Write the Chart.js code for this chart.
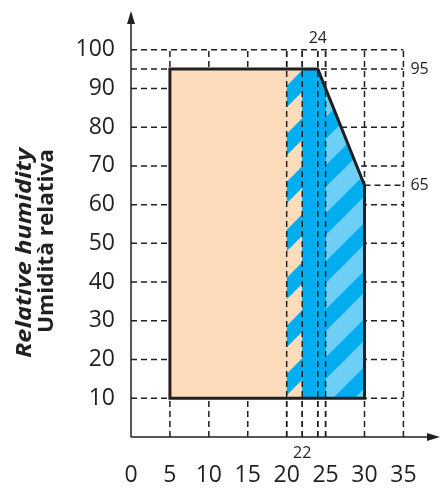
<!DOCTYPE html>
<html>
<head>
<meta charset="utf-8">
<script src="https://cdn.jsdelivr.net/npm/chart.js@4.4.1/dist/chart.umd.min.js"></script>
<style>
  html, body { margin: 0; padding: 0; background: #fff; }
</style>
</head>
<body>
<canvas id="rh" width="440" height="488"></canvas>
<script>
// axis ticks
const xTicks = [0, 5, 10, 15, 20, 25, 30, 35];
const yTicks = [10, 20, 30, 40, 50, 60, 70, 80, 90, 100];

// dashed reference lines
const gridX = [5, 10, 15, 20, 22, 24, 25, 30, 35];
const gridY = [10, 20, 30, 40, 50, 60, 70, 80, 90, 95, 100];
const overX = [20, 22, 24, 25];   // these stay visible over the coloured zone

// envelope (temperature, humidity)
const envX = [5, 5, 24, 30, 30, 5];
const envY = [10, 95, 95, 65, 10, 10];

// top edges of the filled zones (filled down to 10 %)
const peachX = [5, 24, 30];
const peachY = [95, 95, 65];
const blueX = [20, 24, 30];
const blueY = [95, 95, 65];
const hatchAX = [20, 22];
const hatchAY = [95, 95];
const hatchBX = [25, 30];
const hatchBY = [90, 65];

// marked values
const topMark = 24, bottomMark = 22;
const rightMarks = [95, 65];

const ink = '#231f20';
const peach = '#fddcbc';
const blue = '#00aeef';
const light = '#6dcff6';
const FONT = "'Open Sans', 'Noto Sans', sans-serif";

const pts = (xs, ys) => xs.map((x, i) => ({ x: x, y: ys[i] }));

function stripes(color, share, phase) {
  const P = 48;
  const c = document.createElement('canvas');
  c.width = P; c.height = P;
  const g = c.getContext('2d');
  g.fillStyle = color;
  const w = P * share;
  for (const k of [-1, 0, 1, 2]) {
    const c1 = k * P + phase, c2 = c1 + w;
    g.beginPath();
    g.moveTo(c1, 0); g.lineTo(c2, 0); g.lineTo(0, c2); g.lineTo(0, c1);
    g.closePath(); g.fill();
  }
  return g.createPattern(c, 'repeat');
}

function vLines(xs, y0, y1) {
  const out = [];
  xs.forEach(x => { out.push({ x: x, y: y0 }, { x: x, y: y1 }, { x: x, y: null }); });
  return out;
}

const dashed = (ctx) => { ctx.setLineDash([6, 4]); ctx.lineWidth = 1.5; ctx.strokeStyle = ink; };

const backGrid = {
  id: 'backGrid',
  beforeDatasetsDraw(chart) {
    const { ctx, scales: { x, y } } = chart;
    ctx.save();
    dashed(ctx);
    gridY.forEach(v => {
      ctx.beginPath();
      ctx.moveTo(x.getPixelForValue(0), y.getPixelForValue(v));
      ctx.lineTo(x.getPixelForValue(35), y.getPixelForValue(v));
      ctx.stroke();
    });
    ctx.beginPath();
    ctx.moveTo(x.getPixelForValue(30), y.getPixelForValue(65));
    ctx.lineTo(x.getPixelForValue(35), y.getPixelForValue(65));
    ctx.stroke();
    gridX.forEach(v => {
      ctx.beginPath();
      ctx.moveTo(x.getPixelForValue(v), y.getPixelForValue(0));
      ctx.lineTo(x.getPixelForValue(v), y.getPixelForValue(100));
      ctx.stroke();
    });
    ctx.restore();
  }
};

function drawTitle(ctx, text, font, baseX, topY, len) {
  ctx.save();
  ctx.font = font;
  const w = ctx.measureText(text).width;
  ctx.translate(baseX, topY);
  ctx.rotate(-Math.PI / 2);
  ctx.scale(len / w, 1);
  ctx.textAlign = 'right';
  ctx.textBaseline = 'alphabetic';
  ctx.fillStyle = ink;
  ctx.fillText(text, 0, 0);
  ctx.restore();
}

const axesAndLabels = {
  id: 'axesAndLabels',
  afterDatasetsDraw(chart) {
    const { ctx, chartArea: a, scales: { x, y } } = chart;
    const x0 = x.getPixelForValue(0), y0 = y.getPixelForValue(0);
    ctx.save();
    ctx.strokeStyle = ink; ctx.fillStyle = ink; ctx.lineWidth = 1.5;
    ctx.beginPath();
    ctx.moveTo(x0, y0); ctx.lineTo(x0, a.top + 8);
    ctx.moveTo(x0, y0); ctx.lineTo(a.right - 8, y0);
    ctx.stroke();
    ctx.beginPath();
    ctx.moveTo(x0, a.top); ctx.lineTo(x0 - 4, a.top + 13); ctx.lineTo(x0 + 4, a.top + 13); ctx.closePath();
    ctx.fill();
    ctx.beginPath();
    ctx.moveTo(a.right, y0); ctx.lineTo(a.right - 13, y0 - 4); ctx.lineTo(a.right - 13, y0 + 4); ctx.closePath();
    ctx.fill();

    ctx.font = '16px ' + FONT;
    ctx.textBaseline = 'middle';
    ctx.textAlign = 'center';
    ctx.fillText(String(topMark), x.getPixelForValue(topMark), y.getPixelForValue(100) - 11);
    ctx.fillText(String(bottomMark), x.getPixelForValue(bottomMark), y0 + 16);
    ctx.textAlign = 'left';
    rightMarks.forEach(v => ctx.fillText(String(v), x.getPixelForValue(35) + 7, y.getPixelForValue(v)));
    ctx.restore();

    drawTitle(ctx, 'Relative humidity', 'italic bold 21px ' + FONT, 31, 148, 210);
    drawTitle(ctx, 'Umidità relativa', 'bold 22px ' + FONT, 53, 149, 184);
  }
};

const zone = (data, fillStyle, order) => ({
  data: data,
  borderWidth: 0,
  pointRadius: 0,
  backgroundColor: fillStyle,
  fill: { value: 10 },
  order: order
});

const ctx = document.getElementById('rh');
new Chart(ctx, {
  type: 'line',
  data: {
    datasets: [
      {
        data: pts(envX, envY),
        borderColor: ink,
        borderWidth: 3,
        borderJoinStyle: 'miter',
        borderCapStyle: 'square',
        pointRadius: 0,
        fill: false,
        tension: 0,
        order: 0
      },
      {
        data: vLines(overX, 0, 100),
        borderColor: ink,
        borderWidth: 1.5,
        borderDash: [6, 4],
        pointRadius: 0,
        fill: false,
        spanGaps: false,
        order: 1
      },
      zone(pts(hatchBX, hatchBY), stripes(light, 0.55, 32.7), 2),
      zone(pts(hatchAX, hatchAY), stripes(peach, 0.55, 10), 3),
      zone(pts(blueX, blueY), blue, 4),
      zone(pts(peachX, peachY), peach, 5)
    ]
  },
  options: {
    responsive: false,
    animation: false,
    devicePixelRatio: 1,
    layout: { padding: { top: 11, right: 0, bottom: 0, left: 0 } },
    plugins: { legend: { display: false }, tooltip: { enabled: false } },
    scales: {
      x: {
        type: 'linear',
        min: 0,
        max: 39.7,
        grid: { display: false, drawTicks: false },
        border: { display: false },
        ticks: { color: ink, font: { family: FONT, size: 23 }, padding: 25, maxRotation: 0, autoSkip: false },
        afterBuildTicks: s => { s.ticks = xTicks.map(v => ({ value: v })); },
        afterFit: s => { s.height = 51; s.paddingLeft = 0; s.paddingRight = 0; }
      },
      y: {
        type: 'linear',
        min: 0,
        max: 110,
        grid: { display: false, drawTicks: false },
        border: { display: false },
        ticks: { color: ink, font: { family: FONT, size: 23 }, padding: 16, autoSkip: false },
        afterBuildTicks: s => { s.ticks = yTicks.map(v => ({ value: v })); },
        afterFit: s => { s.width = 131; s.paddingTop = 0; s.paddingBottom = 0; }
      }
    }
  },
  plugins: [backGrid, axesAndLabels]
});
</script>
</body>
</html>
